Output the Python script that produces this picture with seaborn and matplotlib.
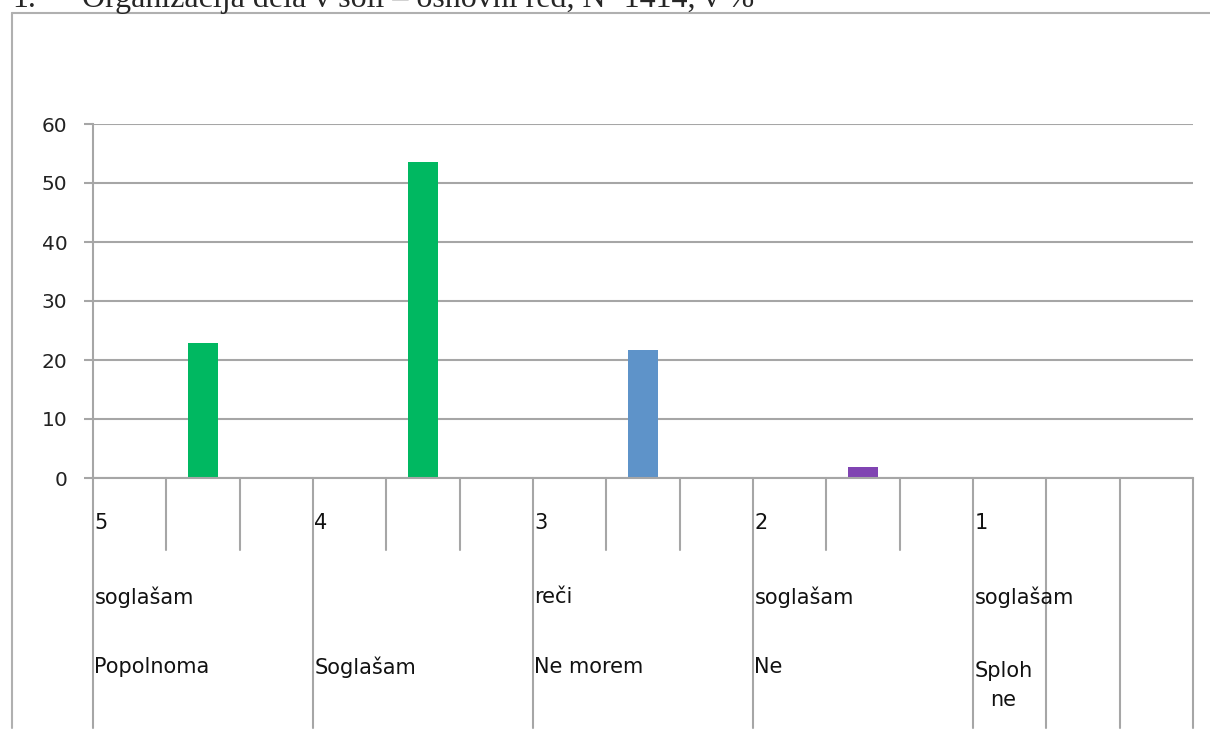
import matplotlib
matplotlib.use("Agg")
import matplotlib.pyplot as plt
from matplotlib.lines import Line2D
import pandas as pd
import seaborn as sns

# data (v %)
answers = ["Popolnoma soglašam", "Soglašam", "Ne morem reči", "Ne soglašam", "Sploh ne soglašam"]
scores = ["5", "4", "3", "2", "1"]
values = [22.8, 53.6, 21.7, 1.9, 0.0]
label_top = ["soglašam", "", "reči", "soglašam", "soglašam"]
label_bottom = ["Popolnoma", "Soglašam", "Ne morem", "Ne", "Sploh\nne"]
colors = ["#00b861", "#00b861", "#5e93c9", "#8044b2", "#8044b2"]
yticks = [0, 10, 20, 30, 40, 50, 60]

title_num = "1."
title = "Organizacija dela v šoli – osnovni red, N=1414, v %"

sns.set_style("white")
plt.rcParams["font.family"] = ["DejaVu Sans"]

W, H = 1210, 731
fig = plt.figure(figsize=(W / 100, H / 100), dpi=100)
ax = fig.add_axes([93 / W, (H - 478) / H, 1100 / W, 354 / H])

# every answer sits in a group of three slots, bar in the middle one
df = pd.DataFrame({
    "pos": [3 * i + 1 for i in range(len(answers))],
    "value": values,
    "odgovor": answers,
})
sns.barplot(
    data=df, x="pos", y="value", hue="odgovor",
    palette=dict(zip(answers, colors)), native_scale=True,
    width=0.4 / 3, saturation=1, linewidth=0, legend=False, ax=ax,
)

grey = "#a6a6a6"
ax.set_xlim(-0.5, 14.5)
ax.set_ylim(0, 60)
ax.set_yticks(yticks)
ax.set_xticks([])
ax.set_xlabel("")
ax.set_ylabel("")
ax.yaxis.grid(True, color=grey, lw=1.5)
ax.set_axisbelow(True)
ax.tick_params(axis="y", length=6.5, width=1.5, color=grey, pad=12,
               labelsize=14.5, labelcolor="#222222", left=True)
for s in ["top", "right"]:
    ax.spines[s].set_visible(False)
for s in ["left", "bottom"]:
    ax.spines[s].set_color(grey)
    ax.spines[s].set_linewidth(1.5)

# category table below the axis
trans = ax.get_xaxis_transform()
long_lines = {0, 3, 6, 9, 12, 13, 14, 15}
for k in range(16):
    yb = -0.706 if k in long_lines else -0.203
    ax.plot([k - 0.5, k - 0.5], [0, yb], transform=trans, clip_on=False,
            color=grey, lw=1.5)

for i in range(len(answers)):
    x0 = 3 * i - 0.5 + 0.02
    ax.text(x0, -0.127, scores[i], transform=trans, fontsize=15,
            va="center", ha="left", color="#111111")
    if label_top[i]:
        ax.text(x0, -0.336, label_top[i], transform=trans, fontsize=15,
                va="center", ha="left", color="#111111")
    yb = -0.587 if "\n" in label_bottom[i] else -0.534
    ax.text(x0, yb, label_bottom[i], transform=trans, fontsize=15,
            va="center", ha="left", multialignment="center",
            linespacing=1.55, color="#111111")

# outer chart frame (left and top edges visible)
fx = 12 / W
fy = 1 - 13 / H
fig.add_artist(Line2D([fx, fx], [3 / H, fy], transform=fig.transFigure,
                      color="#b0b0b0", lw=1.5))
fig.add_artist(Line2D([fx, 1], [fy, fy], transform=fig.transFigure,
                      color="#b0b0b0", lw=1.5))

# document heading, cut off at the top of the image
ty = 1 - 7 / H
fig.text(12 / W, ty, title_num, family="Liberation Serif", fontsize=23,
         va="baseline", ha="left")
fig.text(82 / W, ty, title, family="Liberation Serif", fontsize=23,
         va="baseline", ha="left")

plt.savefig("out.png", dpi=100)
